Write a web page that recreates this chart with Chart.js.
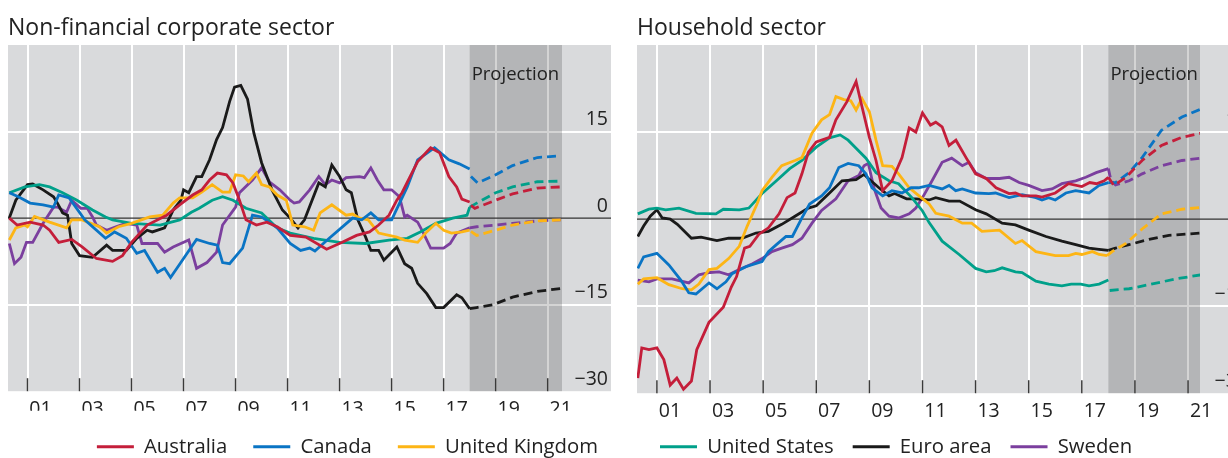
<!DOCTYPE html>
<html>
<head>
<meta charset="utf-8">
<script src="https://cdn.jsdelivr.net/npm/chart.js@4.4.1/dist/chart.umd.min.js"></script>
<style>
  html, body { margin: 0; padding: 0; background: #fff; overflow: hidden; }
  #wrap { position: relative; width: 1228px; height: 458px; overflow: hidden; }
  .panel { position: absolute; top: 0; height: 467px; }
  #leftBox { left: 0; width: 624px; }
  #rightBox { left: 629px; width: 633px; }
</style>
</head>
<body>
<div id="wrap">
  <div class="panel" id="leftBox"><canvas id="corpChart"></canvas></div>
  <div class="panel" id="rightBox"><canvas id="hhChart"></canvas></div>
</div>
<script>
// ---- data (year, per cent) ----
const xTicks = [2001, 2003, 2005, 2007, 2009, 2011, 2013, 2015, 2017, 2019, 2021];
const yTicks = [-30, -15, 0, 15, 30];
const projStart = 2018.0;
const countries = ["Australia", "Canada", "United Kingdom", "United States", "Euro area", "Sweden"];
const colors = ["#c41e3a", "#0a74c4", "#fdb515", "#00a08a", "#1a1a1a", "#7b3f9e"];

// Non-financial corporate sector
const corpAustralia = [[2000.3,0],[2000.6,-1.2],[2001.1,-0.7],[2001.6,-1.2],[2001.85,-2.1],[2002.2,-4.2],[2002.7,-3.7],[2003.1,-5],[2003.65,-7],[2004.27,-7.5],[2004.65,-6.5],[2005.0,-4.2],[2005.6,-1.2],[2006.35,0.5],[2006.85,2.3],[2007.35,4],[2007.7,4.9],[2008.0,6.6],[2008.3,7.8],[2008.65,7.5],[2008.9,6.1],[2009.15,3.1],[2009.4,-0.3],[2009.8,-1.2],[2010.2,-0.7],[2010.6,-1.5],[2011.1,-3],[2011.7,-3.3],[2012.5,-5.4],[2013.1,-4.2],[2013.65,-3],[2014.15,-2.4],[2014.5,-1.2],[2014.9,0.5],[2015.2,3.1],[2015.4,4.4],[2016.0,9.8],[2016.5,12.2],[2016.85,11.3],[2017.2,7.2],[2017.5,5.4],[2017.7,3.3],[2018.0,2.8]];
const corpCanada = [[2000.3,4.4],[2000.65,3.7],[2001.1,2.6],[2001.6,2.3],[2002.0,1.9],[2002.2,4],[2002.6,3.5],[2003.0,1.0],[2003.2,-0.3],[2004.0,-3.5],[2004.35,-2.4],[2004.8,-3.5],[2005.2,-6.1],[2005.5,-5.6],[2006.0,-9.4],[2006.27,-8.7],[2006.5,-10.3],[2007.0,-7],[2007.5,-3.7],[2008.0,-4.4],[2008.3,-4.7],[2008.5,-7.7],[2008.77,-7.9],[2009.27,-5.2],[2009.65,0.5],[2010.0,0.2],[2010.6,-1.7],[2011.1,-4.4],[2011.5,-5.6],[2011.85,-5.2],[2012.05,-5.7],[2012.6,-3.5],[2013.5,0],[2013.85,-0.3],[2014.2,0.9],[2014.5,-0.3],[2015.0,-0.3],[2015.6,5.4],[2016.0,10.1],[2016.65,12.2],[2017.2,10.1],[2017.6,9.4],[2018.0,8.5]];
const corpUK = [[2000.3,-3.8],[2000.55,-1.7],[2000.9,-1.2],[2001.0,-1.5],[2001.27,0.3],[2001.85,-0.7],[2002.5,-1.7],[2002.7,-0.3],[2003.1,-0.3],[2003.77,-1.5],[2004.04,-2.6],[2004.5,-1.5],[2005.0,-0.9],[2005.7,0.2],[2006.2,0.5],[2006.6,2.6],[2006.85,3.5],[2007.35,3.5],[2007.7,4.5],[2008.1,5.8],[2008.5,4.5],[2008.77,4.5],[2009.0,7.5],[2009.3,7.3],[2009.5,6.3],[2009.8,7.8],[2010.0,5.8],[2010.3,5.4],[2010.6,4],[2010.95,3.1],[2011.2,-1.2],[2011.65,-1.5],[2012.0,-2.1],[2012.25,0.9],[2012.7,2.3],[2013.25,0.5],[2013.5,0.7],[2013.77,0],[2014.1,-0.3],[2014.5,-2.6],[2015.2,-3.3],[2015.5,-3.8],[2016.0,-4.2],[2016.35,-2.4],[2016.7,-0.9],[2017.0,-2.1],[2017.3,-2.6],[2017.7,-2.4],[2018.0,-2.1]];
const corpUS = [[2000.3,4.4],[2000.9,5.4],[2001.46,5.8],[2001.85,5.4],[2002.35,4.4],[2002.9,3.1],[2003.5,1.4],[2004.0,0.2],[2004.27,-0.3],[2005.0,-0.9],[2006.1,-1.2],[2006.85,-0.3],[2007.3,1.0],[2007.6,1.7],[2008.1,3.1],[2008.5,3.7],[2008.9,3.1],[2009.4,1.7],[2010.0,0.9],[2010.6,-1.7],[2011.1,-2.6],[2012.0,-3.5],[2013.0,-4.2],[2014.0,-4.4],[2014.9,-3.8],[2015.6,-3.5],[2016.1,-2.4],[2016.7,-0.9],[2017.35,0],[2017.9,0.5],[2018.0,1.9]];
const corpEuro = [[2000.3,0],[2000.55,3.1],[2001.0,5.8],[2001.2,5.9],[2001.6,4.9],[2002.0,3.7],[2002.15,2.6],[2002.35,0.9],[2002.54,0.5],[2002.7,-4.4],[2003.0,-6.5],[2003.5,-6.8],[2004.04,-4.7],[2004.27,-5.6],[2004.8,-5.6],[2005.2,-3.5],[2005.6,-2.1],[2005.8,-2.4],[2006.27,-1.7],[2006.6,1.4],[2006.9,3.1],[2007.0,4.9],[2007.2,4.4],[2007.5,7.2],[2007.7,7.2],[2008.0,10.1],[2008.27,13.6],[2008.5,15.7],[2008.77,20.2],[2008.96,22.7],[2009.2,23],[2009.46,20.6],[2009.7,14.8],[2010.0,9.6],[2010.4,4.9],[2010.8,1.4],[2011.1,0],[2011.4,-1.7],[2011.65,-0.3],[2012.2,6.1],[2012.45,5.4],[2012.7,9.2],[2013.0,7.2],[2013.25,4.9],[2013.45,4.4],[2013.7,-0.3],[2014.0,-3.3],[2014.2,-5.6],[2014.5,-5.6],[2014.7,-7.3],[2015.2,-5],[2015.5,-7.9],[2015.77,-8.7],[2016.0,-11.3],[2016.35,-13.1],[2016.7,-15.5],[2017.0,-15.5],[2017.5,-13.3],[2017.7,-13.8],[2018.0,-15.7]];
const corpSweden = [[2000.3,-4.4],[2000.5,-7.9],[2000.75,-6.8],[2000.96,-4.2],[2001.2,-4.2],[2001.6,-0.9],[2002.0,1.9],[2002.15,1.9],[2002.5,1.0],[2002.7,3.1],[2003.05,1.7],[2003.3,1.7],[2003.5,0.2],[2003.65,-1.2],[2004.04,-2.1],[2004.4,-1.5],[2004.8,-0.9],[2005.2,-1.2],[2005.4,-4.4],[2006.0,-4.4],[2006.27,-5.9],[2006.6,-5],[2007.2,-3.8],[2007.5,-8.7],[2007.9,-7.7],[2008.27,-5.9],[2008.5,-1.2],[2009.0,1.9],[2009.15,4.4],[2009.65,6.6],[2010.0,8.7],[2010.3,6.3],[2010.7,4.9],[2011.1,3.1],[2011.25,2.6],[2011.45,2.8],[2011.85,4.9],[2012.2,7.2],[2012.45,5.8],[2012.7,6.6],[2013.0,6.1],[2013.25,7.0],[2013.77,7.2],[2013.95,7.0],[2014.2,8.7],[2014.45,6.6],[2014.7,4.9],[2015.0,4.9],[2015.3,3.7],[2015.5,0.2],[2015.6,0.5],[2016.0,-0.7],[2016.2,-2.4],[2016.5,-5.2],[2017.0,-5.2],[2017.25,-4.4],[2017.5,-2.6],[2018.0,-1.7]];

const corpAustraliaProj = [[2018.05,2.2],[2018.2,1.7],[2019.0,3.1],[2019.65,4.2],[2020.6,5.2],[2021.5,5.4]];
const corpCanadaProj = [[2018.05,7.2],[2018.3,6.1],[2019.0,7.5],[2019.65,9.1],[2020.6,10.5],[2021.5,10.8]];
const corpUKProj = [[2018.05,-2.3],[2018.27,-3],[2019.0,-2.1],[2019.65,-1.2],[2020.6,-0.5],[2021.5,-0.3]];
const corpUSProj = [[2018.0,1.9],[2018.27,2.6],[2019.0,4.4],[2019.65,5.4],[2020.6,6.3],[2021.5,6.4]];
const corpEuroProj = [[2018.0,-15.7],[2018.27,-15.5],[2018.9,-15],[2019.65,-13.7],[2020.6,-12.7],[2021.5,-12.2]];
const corpSwedenProj = [[2018.0,-1.7],[2018.27,-1.5],[2019.0,-1.2],[2019.65,-0.9],[2020.6,-0.5],[2021.5,-0.3]];

// Household sector
const hhAustralia = [[2000.28,-27.4],[2000.43,-22.2],[2000.7,-22.5],[2001.0,-22.2],[2001.26,-24.2],[2001.5,-28.6],[2001.75,-27.4],[2002.0,-29.3],[2002.3,-27.9],[2002.5,-22.5],[2002.96,-17.8],[2003.5,-15.2],[2003.8,-11.7],[2004.0,-9.9],[2004.3,-5],[2004.5,-4.7],[2004.84,-2.6],[2005.2,-1.5],[2005.6,0.9],[2005.9,3.7],[2006.2,4.5],[2006.46,7.8],[2006.7,11.5],[2007.0,13.3],[2007.5,14.1],[2007.74,17.1],[2008.15,20.2],[2008.5,23.7],[2008.72,19.4],[2009.0,14.1],[2009.25,10.1],[2009.5,4.9],[2009.85,6.6],[2010.23,10.6],[2010.5,15.7],[2010.75,15],[2011.0,18.3],[2011.3,16.2],[2011.5,16.7],[2011.74,15.9],[2012.0,12.7],[2012.26,13.6],[2012.64,10.6],[2013.0,7.8],[2013.4,7.0],[2013.77,5.4],[2014.26,4.4],[2014.5,4.5],[2014.75,4],[2015.27,4],[2015.5,3.8],[2016.0,4.5],[2016.5,6.1],[2017.0,5.6],[2017.3,6.3],[2017.55,6.1],[2017.84,6.6],[2018.0,7.2]];
const hhCanada = [[2000.28,-8.5],[2000.5,-6.5],[2001.0,-5.9],[2001.45,-7.9],[2001.9,-10.5],[2002.2,-12.7],[2002.47,-12.9],[2002.96,-11],[2003.26,-12],[2003.6,-10.8],[2003.83,-9.4],[2004.35,-8.2],[2004.96,-7.3],[2005.2,-5.6],[2005.5,-4.4],[2005.86,-3],[2006.1,-3],[2006.46,0.2],[2006.75,2.6],[2007.2,4],[2007.5,5.4],[2007.85,8.9],[2008.2,9.6],[2008.6,9.2],[2008.87,7.8],[2009.1,5.4],[2009.5,4],[2009.85,4.9],[2010.23,4.5],[2010.57,5.4],[2010.85,5.4],[2011.25,5.8],[2011.74,5.2],[2012.0,5.8],[2012.25,4.9],[2012.5,5.2],[2013.0,4.5],[2013.5,4.4],[2013.75,4.5],[2014.26,3.7],[2014.75,4.2],[2015.27,3.7],[2015.5,3.3],[2015.75,3.7],[2016.0,3.3],[2016.4,4.5],[2016.77,4.9],[2017.27,4.5],[2017.65,5.8],[2018.0,6.3]];
const hhUK = [[2000.28,-11.2],[2000.5,-10.3],[2001.0,-10.1],[2001.45,-11.3],[2001.95,-12],[2002.3,-12.2],[2002.58,-11.2],[2002.96,-8.7],[2003.26,-8.5],[2003.7,-6.8],[2004.1,-4.7],[2004.4,-1.2],[2004.77,2.6],[2004.96,4.9],[2005.33,7.2],[2005.7,9.2],[2006.2,10.1],[2006.46,10.6],[2006.84,14.8],[2007.2,17.1],[2007.5,18],[2007.74,21.1],[2008.04,20.6],[2008.3,20.4],[2008.5,18.8],[2008.72,20.8],[2009.0,18.5],[2009.25,13.6],[2009.5,9.2],[2009.85,9.1],[2010.1,7.8],[2010.5,5.4],[2010.87,4],[2011.25,2.6],[2011.5,1],[2012.0,0.5],[2012.5,-0.7],[2012.85,-0.7],[2013.24,-2.1],[2013.9,-1.9],[2014.5,-4.2],[2014.75,-3.7],[2015.27,-5.6],[2016.0,-6.3],[2016.5,-6.3],[2016.77,-5.9],[2017.0,-6.1],[2017.4,-5.6],[2017.65,-6.1],[2017.95,-6.3]];
const hhUS = [[2000.28,0.9],[2000.7,1.7],[2001.0,1.9],[2001.33,1.6],[2001.83,1.9],[2002.47,1.0],[2003.22,0.9],[2003.5,1.7],[2004.1,1.6],[2004.46,1.9],[2004.7,3.1],[2004.96,4.4],[2005.5,6.6],[2006.0,8.7],[2006.46,10.1],[2007.0,12.4],[2007.5,14],[2007.9,14.5],[2008.2,13.6],[2008.5,12.2],[2008.87,10.5],[2009.25,8],[2009.74,6.6],[2010.1,6.1],[2010.6,3.7],[2011.0,1.4],[2011.25,-0.6],[2011.74,-3.8],[2012.38,-6.1],[2013.0,-8.5],[2013.4,-9.1],[2013.7,-8.9],[2014.0,-8.4],[2014.5,-9.1],[2014.75,-9.2],[2015.27,-10.7],[2015.76,-11.2],[2016.25,-11.5],[2016.6,-11.2],[2016.96,-11.2],[2017.27,-11.5],[2017.65,-11.2],[2018.0,-10.5]];
const hhEuro = [[2000.28,-3],[2000.5,-1.2],[2000.75,0.5],[2001.0,1.6],[2001.2,0.2],[2001.5,0],[2001.77,-0.9],[2002.3,-3.3],[2002.66,-3.1],[2003.26,-3.7],[2003.7,-3.3],[2004.2,-3.3],[2004.73,-2.4],[2005.2,-2.1],[2005.7,-0.9],[2006.2,0.5],[2006.7,1.9],[2007.0,2.3],[2007.5,4.5],[2007.97,6.6],[2008.5,6.8],[2008.8,7.7],[2009.06,6.6],[2009.36,5.4],[2009.74,4],[2009.95,4.4],[2010.4,3.5],[2010.75,3.5],[2011.25,3.3],[2011.5,3.7],[2012.0,3.1],[2012.4,3.1],[2013.0,1.6],[2013.4,0.9],[2014.0,-0.7],[2014.5,-1],[2015.0,-1.9],[2015.65,-3],[2016.25,-3.8],[2016.77,-4.4],[2017.27,-5],[2017.65,-5.2],[2018.0,-5.4]];
const hhSweden = [[2000.28,-10.5],[2000.7,-10.8],[2001.0,-10.3],[2001.57,-10.3],[2002.2,-11],[2002.58,-9.6],[2003.0,-9.2],[2003.34,-9.1],[2003.7,-9.6],[2004.1,-8.7],[2004.6,-7.7],[2004.96,-6.8],[2005.33,-5.6],[2005.7,-5],[2006.1,-4.4],[2006.46,-3.3],[2006.84,-0.7],[2007.2,1.5],[2007.74,3.5],[2008.2,6.6],[2008.6,7.5],[2008.8,9.2],[2008.96,9.6],[2009.17,5.4],[2009.44,1.9],[2009.74,0.5],[2010.1,0.2],[2010.5,0.9],[2010.75,1.9],[2011.0,3.7],[2011.36,6.6],[2011.74,9.8],[2012.1,10.5],[2012.5,9.2],[2012.75,9.8],[2013.0,8],[2013.4,7],[2013.9,7],[2014.26,7.2],[2014.64,6.3],[2015.0,5.8],[2015.5,4.9],[2015.88,5.2],[2016.25,6.1],[2016.77,6.6],[2017.15,7.2],[2017.54,8],[2018.0,8.7]];

const hhAustraliaProj = [[2018.0,7.2],[2018.2,5.8],[2018.66,7.2],[2019.27,10.1],[2020.0,12.7],[2020.77,14.1],[2021.5,14.8]];
const hhCanadaProj = [[2018.0,6.3],[2018.27,6.3],[2018.78,8],[2019.27,10.6],[2020.0,15.3],[2020.77,17.6],[2021.5,19]];
const hhUKProj = [[2017.95,-6.3],[2018.14,-5.6],[2018.66,-4.2],[2019.27,-1.7],[2020.0,0.9],[2020.77,1.7],[2021.5,2.0]];
const hhUSProj = [[2018.05,-12.3],[2018.78,-12],[2019.53,-11.3],[2020.54,-10.3],[2021.5,-9.6]];
const hhEuroProj = [[2018.0,-5.4],[2018.27,-5],[2018.78,-4.4],[2019.53,-3.5],[2020.28,-2.8],[2021.5,-2.4]];
const hhSwedenProj = [[2018.0,8.7],[2018.1,6.6],[2018.27,5.9],[2018.78,6.6],[2019.27,7.8],[2020.0,9.2],[2020.77,10.1],[2021.5,10.5]];

// ---- styling ----
const FONT = '"Open Sans", sans-serif';
const STRIP = 49;      // grey panel / gridlines run this far past the plot
Chart.defaults.font.family = FONT;
Chart.defaults.color = "#222";

// grey panel, projection shading, zero line and inner year ticks
const panelDecor = {
  id: "panelDecor",
  beforeDraw(chart) {
    const { ctx, chartArea: a } = chart;
    ctx.save();
    ctx.fillStyle = "#d9dadc";
    ctx.fillRect(a.left, a.top, a.width + STRIP, a.height);
    ctx.restore();
  },
  beforeDatasetsDraw(chart) {
    const { ctx, chartArea: a, scales } = chart;
    const x = scales.x, y = scales.y;
    const x0 = x.getPixelForValue(projStart);
    ctx.save();
    ctx.fillStyle = "rgba(0,0,0,0.17)";
    ctx.fillRect(x0, a.top, a.right - x0, a.height);

    const y0 = y.getPixelForValue(0);
    ctx.strokeStyle = "#333";
    ctx.lineWidth = 1.3;
    ctx.beginPath();
    ctx.moveTo(a.left, y0);
    ctx.lineTo(a.right + STRIP, y0);
    ctx.stroke();

    ctx.strokeStyle = "#3a3a3a";
    ctx.lineWidth = 1.5;
    x.ticks.forEach(function (t) {
      const px = x.getPixelForValue(t.value);
      ctx.beginPath();
      ctx.moveTo(px, a.bottom);
      ctx.lineTo(px, a.bottom - 13);
      ctx.stroke();
    });

    ctx.fillStyle = "#222";
    ctx.font = "18.5px " + FONT;
    ctx.textAlign = "left";
    ctx.textBaseline = "middle";
    ctx.fillText("Projection", x0 + 2, a.top + 30);
    ctx.restore();
  },
};

// slides the legend sideways so it can run past the label strip
const legendShift = {
  id: "legendShift",
  afterLayout(chart, args, opts) {
    if (chart.legend && opts.shift) {
      chart.legend.left += opts.shift;
      chart.legend.right += opts.shift;
    }
  },
};

function buildDatasets(actual, proj) {
  const sets = [];
  actual.forEach(function (pts, i) {
    sets.push({ label: countries[i], data: pts, borderColor: colors[i], backgroundColor: colors[i],
      borderWidth: 2.8, pointRadius: 0, tension: 0 });
  });
  proj.forEach(function (pts, i) {
    sets.push({ label: countries[i] + " (projection)", data: pts, borderColor: colors[i], backgroundColor: colors[i],
      borderWidth: 2.8, pointRadius: 0, tension: 0, borderDash: [9, 5], proj: true });
  });
  return sets;
}

function makeChart(id, title, actual, proj, p) {
  return new Chart(document.getElementById(id), {
    type: "line",
    data: { datasets: buildDatasets(actual, proj) },
    plugins: [panelDecor, legendShift],
    options: {
      responsive: true,
      maintainAspectRatio: false,
      animation: false,
      layout: { padding: { left: 8, right: p.padRight, top: 0, bottom: 0 } },
      scales: {
        x: {
          type: "linear",
          min: 2000.25,
          max: p.xMax,
          afterBuildTicks: (s) => { s.ticks = xTicks.map((v) => ({ value: v })); },
          afterFit: (s) => { s.height = p.xAxisH; },
          grid: { color: "#ffffff", lineWidth: 2, drawTicks: false },
          border: { display: false },
          ticks: { padding: 7, labelOffset: 13, maxRotation: 0, autoSkip: false,
            font: { size: 19.5 }, callback: (v) => String(v).slice(2) },
        },
        y: {
          position: "right",
          min: -30,
          max: 30,
          afterBuildTicks: (s) => { s.ticks = yTicks.map((v) => ({ value: v })); },
          afterFit: (s) => { s.width = p.axisW; },
          grid: {
            color: (c) => (c.tick && Math.abs(c.tick.value) === 15 ? "#ffffff" : "rgba(0,0,0,0)"),
            lineWidth: 2, drawTicks: true, tickLength: STRIP,
          },
          border: { display: false },
          ticks: { crossAlign: "far", padding: 1, labelOffset: -12, font: { size: 19.5 },
            callback: (v) => (v === 30 ? "" : v < 0 ? "\u2212" + Math.abs(v) : String(v)) },
        },
      },
      plugins: {
        title: { display: true, text: title, align: "start", color: "#222",
          font: { size: 23, weight: "normal" }, padding: { top: 15, bottom: 2.4 } },
        legend: {
          position: "bottom",
          align: p.legendAlign,
          labels: {
            boxWidth: 37, boxHeight: 3, padding: p.legendPad, font: { size: 20.3 },
            filter: (item, data) => !data.datasets[item.datasetIndex].proj && p.shown.includes(item.text),
            generateLabels: (chart) =>
              Chart.defaults.plugins.legend.labels.generateLabels(chart).map((l) => Object.assign(l, { lineWidth: 0, lineDash: [] })),
          },
        },
        legendShift: { shift: p.shift },
        tooltip: { enabled: false },
      },
    },
  });
}

makeChart("corpChart", "Non-financial corporate sector",
  [corpAustralia, corpCanada, corpUK, corpUS, corpEuro, corpSweden],
  [corpAustraliaProj, corpCanadaProj, corpUKProj, corpUSProj, corpEuroProj, corpSwedenProj],
  { xMax: 2021.55, shown: countries.slice(0, 3), legendAlign: "end", legendPad: 26,
    xAxisH: 19.5, shift: 16, axisW: 46, padRight: 16 });

makeChart("hhChart", "Household sector",
  [hhAustralia, hhCanada, hhUK, hhUS, hhEuro, hhSweden],
  [hhAustraliaProj, hhCanadaProj, hhUKProj, hhUSProj, hhEuroProj, hhSwedenProj],
  { xMax: 2021.45, shown: countries.slice(3), legendAlign: "start", legendPad: 19,
    xAxisH: 24.5, shift: 4, axisW: 48, padRight: 14 });
</script>
</body>
</html>
